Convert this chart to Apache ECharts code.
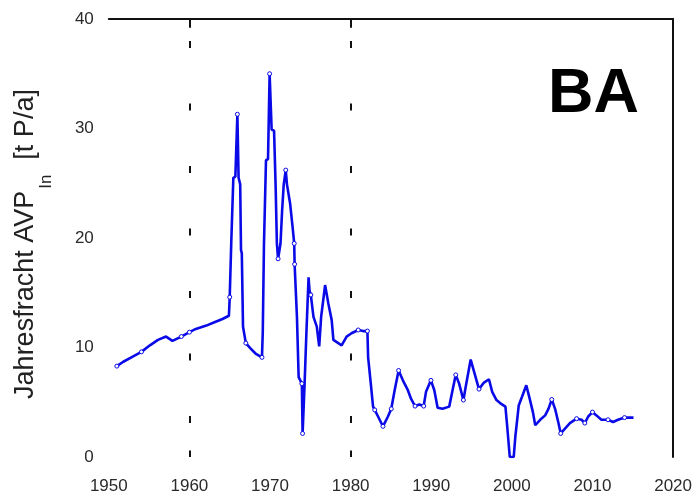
<!DOCTYPE html>
<html>
<head>
<meta charset="utf-8">
<script src="https://cdn.jsdelivr.net/npm/echarts@6/dist/echarts.min.js"></script>
<style>
  html, body { margin: 0; padding: 0; background: #fff; }
  #chart { width: 695px; height: 495px; }
</style>
</head>
<body>
<div id="chart"></div>
<script>
// Jahresfracht AVP_In, Station BA
const years = [
  1951.0, 1951.8, 1952.8, 1954.05, 1955.1, 1956.1, 1957.1, 1957.9, 1959.0, 1960.0,
  1960.8, 1962.1, 1963.1, 1964.1, 1964.9, 1965.0, 1965.2, 1965.45, 1965.7, 1965.95,
  1966.1, 1966.3, 1966.4, 1966.5, 1966.65, 1967.0, 1967.6, 1968.2, 1969.0, 1969.1,
  1969.25, 1969.5, 1969.75, 1969.95, 1970.2, 1970.5, 1970.7, 1970.85, 1971.0, 1971.3,
  1971.5, 1971.7, 1971.95, 1972.1, 1972.5, 1972.8, 1973.0, 1973.05, 1973.34, 1973.55,
  1973.95, 1974.04, 1974.29, 1974.5, 1974.78, 1974.9, 1975.06, 1975.39, 1975.8, 1976.1,
  1976.34, 1976.63, 1976.83, 1977.24, 1977.65, 1977.86, 1978.47, 1978.88, 1979.5, 1980.11,
  1980.94, 1981.55, 1982.08, 1982.17, 1982.5, 1982.78, 1982.99, 1983.4, 1984.01, 1984.63,
  1985.04, 1985.46, 1985.95, 1986.48, 1987.1, 1987.5, 1987.99, 1988.53, 1989.06, 1989.35,
  1989.96, 1990.38, 1990.79, 1991.4, 1992.23, 1992.64, 1993.04, 1993.46, 1993.99, 1994.27,
  1994.89, 1995.31, 1995.92, 1996.54, 1997.16, 1997.56, 1998.09, 1998.58, 1999.2, 1999.41,
  1999.74, 2000.23, 2000.43, 2000.85, 2001.26, 2001.79, 2002.2, 2002.61, 2002.9, 2003.51,
  2004.13, 2004.54, 2004.95, 2005.36, 2005.78, 2006.06, 2006.59, 2007.2, 2008.03, 2008.65,
  2009.05, 2009.47, 2010.0, 2010.49, 2011.11, 2011.93, 2012.55, 2013.17, 2013.98, 2015.09
];
const loadValues = [
  8.3, 8.7, 9.1, 9.6, 10.2, 10.7, 11.0, 10.6, 11.0, 11.4,
  11.7, 12.0, 12.3, 12.6, 12.9, 14.6, 19.8, 25.5, 25.6, 31.3,
  25.5, 24.9, 18.9, 18.6, 11.9, 10.4, 9.9, 9.45, 9.1, 11.4,
  19.5, 27.1, 27.2, 35.0, 29.9, 29.8, 24.6, 19.5, 18.1, 19.5,
  22.5, 24.9, 26.2, 24.9, 23.1, 21.0, 19.5, 17.6, 12.8, 7.3,
  6.7, 2.15, 6.7, 11.1, 16.4, 15.2, 14.8, 12.8, 11.9, 10.1,
  12.8, 14.5, 15.7, 14.0, 12.5, 10.7, 10.4, 10.2, 11.0, 11.3,
  11.6, 11.5, 11.5, 9.1, 6.7, 4.6, 4.3, 3.7, 2.8, 3.7,
  4.4, 6.1, 7.9, 7.0, 6.1, 5.3, 4.65, 4.8, 4.65, 5.95,
  7.0, 6.1, 4.5, 4.4, 4.6, 6.1, 7.5, 6.7, 5.2, 6.4,
  8.9, 7.8, 6.2, 6.8, 7.1, 5.95, 5.2, 4.9, 4.6, 2.9,
  0.0, 0.0, 1.85, 4.7, 5.5, 6.55, 5.35, 4.1, 2.9, 3.4,
  3.8, 4.4, 5.25, 4.4, 3.1, 2.15, 2.6, 3.1, 3.5, 3.4,
  3.1, 3.7, 4.1, 3.8, 3.4, 3.4, 3.2, 3.4, 3.6, 3.6
];
const gridYears = [1960, 1980];
const stationLabel = 'BA';

const blue = '#0a0ae8';
const fontFamily = '"Liberation Sans", Arial, sans-serif';
const axisText = { color: '#2a2a2a', fontSize: 17, fontFamily: fontFamily };

const chart = echarts.init(document.getElementById('chart'), null, { renderer: 'canvas' });

const seriesData = years.map((y, i) => [y, loadValues[i]]);

chart.setOption({
  animation: false,
  backgroundColor: '#fff',
  grid: { left: 108.8, right: 18, top: 19, bottom: 38, containLabel: false },
  xAxis: [{
    type: 'value', min: 1950, max: 2020, interval: 10, position: 'bottom',
    axisLine: { show: false }, axisTick: { show: false }, splitLine: { show: false },
    axisLabel: Object.assign({ margin: 21, formatter: (v) => String(v) }, axisText)
  }, {
    type: 'value', min: 1950, max: 2020, interval: 10, position: 'top',
    axisLine: { show: true, onZero: false, lineStyle: { color: '#111', width: 2 } },
    axisTick: { show: false }, axisLabel: { show: false }, splitLine: { show: false }
  }],
  yAxis: [{
    type: 'value', min: 0, max: 40, interval: 10, position: 'left',
    axisLine: { show: false }, axisTick: { show: false }, splitLine: { show: false },
    axisLabel: Object.assign({ margin: 15 }, axisText),
    name: '{m|Jahresfracht AVP}{s|In}{m|  [t P/a]}',
    nameLocation: 'middle', nameRotate: 90, nameGap: 70,
    nameTextStyle: {
      padding: [0, 12, 0, 0],
      rich: {
        m: { fontSize: 27, color: '#222', fontFamily: fontFamily, verticalAlign: 'bottom', lineHeight: 32 },
        s: { fontSize: 17, color: '#222', fontFamily: fontFamily, verticalAlign: 'bottom', lineHeight: 17, padding: [0, 0, -16, 2] }
      }
    }
  }, {
    type: 'value', min: 0, max: 40, interval: 10, position: 'right',
    axisLine: { show: true, onZero: false, lineStyle: { color: '#111', width: 2 } },
    axisTick: { show: false }, axisLabel: { show: false }, splitLine: { show: false }
  }],
  graphic: [{
    type: 'text', left: 548, top: 63,
    style: { text: stationLabel, fill: '#000', font: 'bold 63px ' + fontFamily }
  }],
  series: [{
    type: 'line',
    data: seriesData,
    xAxisIndex: 0, yAxisIndex: 0,
    lineStyle: { color: blue, width: 2.6 },
    symbol: 'circle',
    symbolSize: (v) => Math.abs(v[0] - Math.round(v[0])) < 0.08 ? 4 : 0,
    itemStyle: { color: '#fff', borderColor: blue, borderWidth: 1 },
    markLine: {
      silent: true, symbol: 'none', label: { show: false },
      lineStyle: { color: '#111', width: 2, type: [7, 55.5], dashOffset: 28.5 },
      data: gridYears.map((g) => ({ xAxis: g }))
    },
    z: 3
  }, {
    // short ticks where the dashed grid lines meet the frame
    type: 'line', data: [], silent: true,
    markLine: {
      silent: true, symbol: 'none', label: { show: false },
      lineStyle: { color: '#111', width: 2, type: 'solid' },
      data: gridYears.flatMap((g) => [
        [{ coord: [g, 0] }, { coord: [g, 0.6] }],
        [{ coord: [g, 40] }, { coord: [g, 39.2] }]
      ])
    }
  }]
});
</script>
</body>
</html>
